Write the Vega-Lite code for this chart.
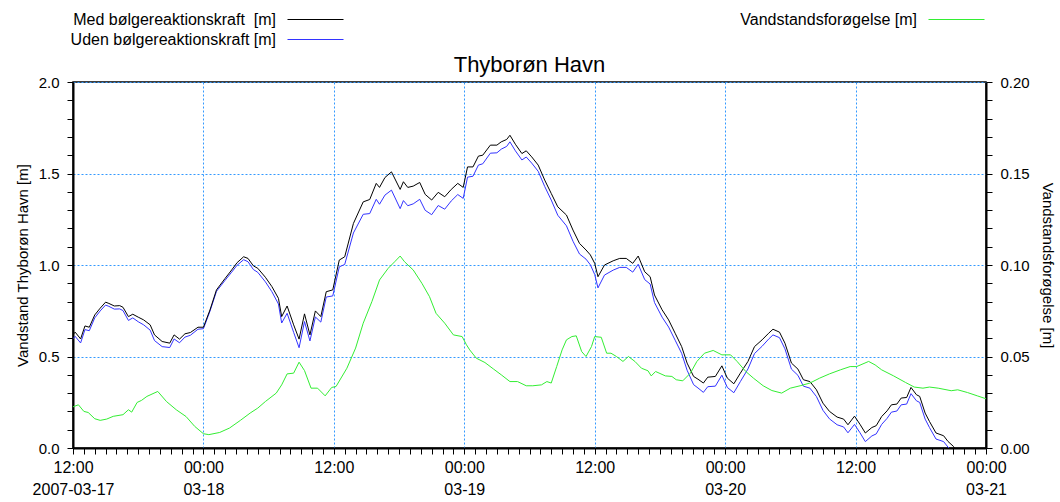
{
  "$schema": "https://vega.github.io/schema/vega-lite/v6.json",
  "width": 913,
  "height": 366,
  "autosize": {"type": "none"},
  "padding": {"left": 73, "top": 82, "right": 74, "bottom": 54},
  "background": "white",
  "title": {"text": "Thyborøn Havn", "fontSize": 22, "font": "Liberation Sans", "fontWeight": "normal", "color": "black", "offset": 4, "dy": 90},
  "config": {
    "view": {"stroke": "black", "strokeWidth": 1.5},
    "font": "Liberation Sans",
    "axis": {
      "labelFont": "Liberation Sans", "labelFontSize": 15, "labelColor": "black",
      "titleFont": "Liberation Sans", "titleFontSize": 15, "titleFontWeight": "normal", "titleColor": "black",
      "domainColor": "black", "domainWidth": 2, "tickColor": "black", "tickWidth": 1,
      "gridColor": "#3399ff", "gridDash": [2, 2], "gridWidth": 1
    },
    "legend": {
      "orient": "none", "direction": "vertical", "title": null,
      "symbolType": "stroke", "symbolSize": 3136, "symbolStrokeWidth": 1,
      "labelAlign": "right", "labelOffset": -68, "labelLimit": 400,
      "labelFontSize": 16, "labelFont": "Liberation Sans", "labelColor": "black",
      "padding": 0
    }
  },
  "datasets": {
    "levels": [
      {"t": "2007-03-17T12:00", "med": 0.62, "uden": 0.597},
      {"t": "2007-03-17T12:12", "med": 0.633, "uden": 0.61},
      {"t": "2007-03-17T12:42", "med": 0.596, "uden": 0.574},
      {"t": "2007-03-17T13:06", "med": 0.667, "uden": 0.647},
      {"t": "2007-03-17T13:30", "med": 0.66, "uden": 0.641},
      {"t": "2007-03-17T14:00", "med": 0.727, "uden": 0.711},
      {"t": "2007-03-17T14:30", "med": 0.764, "uden": 0.749},
      {"t": "2007-03-17T15:00", "med": 0.797, "uden": 0.781},
      {"t": "2007-03-17T15:18", "med": 0.79, "uden": 0.774},
      {"t": "2007-03-17T15:48", "med": 0.776, "uden": 0.759},
      {"t": "2007-03-17T16:18", "med": 0.778, "uden": 0.76},
      {"t": "2007-03-17T16:36", "med": 0.769, "uden": 0.751},
      {"t": "2007-03-17T17:06", "med": 0.718, "uden": 0.697},
      {"t": "2007-03-17T17:30", "med": 0.731, "uden": 0.711},
      {"t": "2007-03-17T18:00", "med": 0.715, "uden": 0.69},
      {"t": "2007-03-17T18:30", "med": 0.70, "uden": 0.673},
      {"t": "2007-03-17T19:06", "med": 0.673, "uden": 0.644},
      {"t": "2007-03-17T19:30", "med": 0.618, "uden": 0.587},
      {"t": "2007-03-17T20:12", "med": 0.582, "uden": 0.554},
      {"t": "2007-03-17T20:54", "med": 0.573, "uden": 0.549},
      {"t": "2007-03-17T21:18", "med": 0.618, "uden": 0.596},
      {"t": "2007-03-17T21:48", "med": 0.595, "uden": 0.575},
      {"t": "2007-03-17T22:18", "med": 0.624, "uden": 0.606},
      {"t": "2007-03-17T22:48", "med": 0.631, "uden": 0.616},
      {"t": "2007-03-17T23:30", "med": 0.66, "uden": 0.649},
      {"t": "2007-03-18T00:00", "med": 0.66, "uden": 0.652},
      {"t": "2007-03-18T00:36", "med": 0.754, "uden": 0.747},
      {"t": "2007-03-18T01:12", "med": 0.864, "uden": 0.856},
      {"t": "2007-03-18T02:00", "med": 0.927, "uden": 0.917},
      {"t": "2007-03-18T02:36", "med": 0.973, "uden": 0.961},
      {"t": "2007-03-18T03:06", "med": 1.013, "uden": 0.999},
      {"t": "2007-03-18T03:42", "med": 1.045, "uden": 1.029},
      {"t": "2007-03-18T04:06", "med": 1.036, "uden": 1.018},
      {"t": "2007-03-18T04:36", "med": 0.995, "uden": 0.975},
      {"t": "2007-03-18T05:00", "med": 0.982, "uden": 0.96},
      {"t": "2007-03-18T05:42", "med": 0.933, "uden": 0.908},
      {"t": "2007-03-18T06:18", "med": 0.882, "uden": 0.854},
      {"t": "2007-03-18T06:54", "med": 0.818, "uden": 0.787},
      {"t": "2007-03-18T07:12", "med": 0.718, "uden": 0.683},
      {"t": "2007-03-18T07:42", "med": 0.776, "uden": 0.736},
      {"t": "2007-03-18T08:18", "med": 0.673, "uden": 0.632},
      {"t": "2007-03-18T08:48", "med": 0.595, "uden": 0.548},
      {"t": "2007-03-18T09:18", "med": 0.733, "uden": 0.691},
      {"t": "2007-03-18T09:48", "med": 0.618, "uden": 0.585},
      {"t": "2007-03-18T10:18", "med": 0.749, "uden": 0.716},
      {"t": "2007-03-18T10:48", "med": 0.718, "uden": 0.688},
      {"t": "2007-03-18T11:18", "med": 0.854, "uden": 0.825},
      {"t": "2007-03-18T11:54", "med": 0.864, "uden": 0.831},
      {"t": "2007-03-18T12:30", "med": 1.027, "uden": 0.99},
      {"t": "2007-03-18T13:00", "med": 1.045, "uden": 1.003},
      {"t": "2007-03-18T13:48", "med": 1.227, "uden": 1.175},
      {"t": "2007-03-18T14:42", "med": 1.345, "uden": 1.277},
      {"t": "2007-03-18T15:18", "med": 1.358, "uden": 1.281},
      {"t": "2007-03-18T15:54", "med": 1.446, "uden": 1.359},
      {"t": "2007-03-18T16:12", "med": 1.424, "uden": 1.332},
      {"t": "2007-03-18T16:42", "med": 1.478, "uden": 1.382},
      {"t": "2007-03-18T17:18", "med": 1.509, "uden": 1.409},
      {"t": "2007-03-18T18:06", "med": 1.413, "uden": 1.308},
      {"t": "2007-03-18T18:24", "med": 1.455, "uden": 1.352},
      {"t": "2007-03-18T18:48", "med": 1.424, "uden": 1.324},
      {"t": "2007-03-18T19:18", "med": 1.431, "uden": 1.334},
      {"t": "2007-03-18T19:54", "med": 1.451, "uden": 1.359},
      {"t": "2007-03-18T20:24", "med": 1.386, "uden": 1.299},
      {"t": "2007-03-18T21:00", "med": 1.355, "uden": 1.275},
      {"t": "2007-03-18T21:36", "med": 1.397, "uden": 1.325},
      {"t": "2007-03-18T22:12", "med": 1.373, "uden": 1.305},
      {"t": "2007-03-18T22:48", "med": 1.413, "uden": 1.35},
      {"t": "2007-03-18T23:24", "med": 1.446, "uden": 1.385},
      {"t": "2007-03-18T23:54", "med": 1.424, "uden": 1.364},
      {"t": "2007-03-19T00:18", "med": 1.536, "uden": 1.48},
      {"t": "2007-03-19T00:48", "med": 1.536, "uden": 1.485},
      {"t": "2007-03-19T01:18", "med": 1.595, "uden": 1.546},
      {"t": "2007-03-19T01:42", "med": 1.60, "uden": 1.553},
      {"t": "2007-03-19T02:24", "med": 1.655, "uden": 1.611},
      {"t": "2007-03-19T03:00", "med": 1.655, "uden": 1.613},
      {"t": "2007-03-19T03:24", "med": 1.673, "uden": 1.633},
      {"t": "2007-03-19T03:54", "med": 1.686, "uden": 1.648},
      {"t": "2007-03-19T04:12", "med": 1.709, "uden": 1.673},
      {"t": "2007-03-19T04:42", "med": 1.66, "uden": 1.624},
      {"t": "2007-03-19T05:18", "med": 1.609, "uden": 1.574},
      {"t": "2007-03-19T05:42", "med": 1.624, "uden": 1.59},
      {"t": "2007-03-19T06:12", "med": 1.591, "uden": 1.557},
      {"t": "2007-03-19T06:48", "med": 1.546, "uden": 1.512},
      {"t": "2007-03-19T07:24", "med": 1.464, "uden": 1.429},
      {"t": "2007-03-19T08:00", "med": 1.391, "uden": 1.355},
      {"t": "2007-03-19T08:36", "med": 1.318, "uden": 1.272},
      {"t": "2007-03-19T09:24", "med": 1.273, "uden": 1.214},
      {"t": "2007-03-19T10:00", "med": 1.191, "uden": 1.13},
      {"t": "2007-03-19T10:36", "med": 1.118, "uden": 1.06},
      {"t": "2007-03-19T11:12", "med": 1.082, "uden": 1.032},
      {"t": "2007-03-19T11:36", "med": 1.055, "uden": 1.001},
      {"t": "2007-03-19T12:00", "med": 1.009, "uden": 0.948},
      {"t": "2007-03-19T12:18", "med": 0.936, "uden": 0.875},
      {"t": "2007-03-19T12:54", "med": 1.0, "uden": 0.945},
      {"t": "2007-03-19T13:42", "med": 1.023, "uden": 0.972},
      {"t": "2007-03-19T14:18", "med": 1.036, "uden": 0.987},
      {"t": "2007-03-19T14:54", "med": 1.036, "uden": 0.987},
      {"t": "2007-03-19T15:30", "med": 1.009, "uden": 0.961},
      {"t": "2007-03-19T16:00", "med": 1.049, "uden": 1.004},
      {"t": "2007-03-19T16:36", "med": 0.963, "uden": 0.92},
      {"t": "2007-03-19T17:06", "med": 0.936, "uden": 0.896},
      {"t": "2007-03-19T17:30", "med": 0.836, "uden": 0.795},
      {"t": "2007-03-19T18:12", "med": 0.755, "uden": 0.715},
      {"t": "2007-03-19T18:48", "med": 0.70, "uden": 0.661},
      {"t": "2007-03-19T19:24", "med": 0.627, "uden": 0.589},
      {"t": "2007-03-19T20:00", "med": 0.554, "uden": 0.517},
      {"t": "2007-03-19T20:30", "med": 0.464, "uden": 0.425},
      {"t": "2007-03-19T21:06", "med": 0.391, "uden": 0.346},
      {"t": "2007-03-19T21:30", "med": 0.376, "uden": 0.328},
      {"t": "2007-03-19T22:00", "med": 0.355, "uden": 0.304},
      {"t": "2007-03-19T22:24", "med": 0.387, "uden": 0.335},
      {"t": "2007-03-19T23:06", "med": 0.391, "uden": 0.338},
      {"t": "2007-03-19T23:42", "med": 0.449, "uden": 0.398},
      {"t": "2007-03-20T00:12", "med": 0.382, "uden": 0.331},
      {"t": "2007-03-20T00:48", "med": 0.351, "uden": 0.302},
      {"t": "2007-03-20T01:24", "med": 0.409, "uden": 0.363},
      {"t": "2007-03-20T02:06", "med": 0.473, "uden": 0.432},
      {"t": "2007-03-20T02:42", "med": 0.554, "uden": 0.516},
      {"t": "2007-03-20T03:24", "med": 0.591, "uden": 0.556},
      {"t": "2007-03-20T04:00", "med": 0.627, "uden": 0.595},
      {"t": "2007-03-20T04:24", "med": 0.649, "uden": 0.618},
      {"t": "2007-03-20T05:00", "med": 0.633, "uden": 0.603},
      {"t": "2007-03-20T05:30", "med": 0.573, "uden": 0.542},
      {"t": "2007-03-20T06:06", "med": 0.464, "uden": 0.431},
      {"t": "2007-03-20T06:42", "med": 0.431, "uden": 0.397},
      {"t": "2007-03-20T07:12", "med": 0.373, "uden": 0.338},
      {"t": "2007-03-20T07:48", "med": 0.363, "uden": 0.327},
      {"t": "2007-03-20T08:24", "med": 0.318, "uden": 0.281},
      {"t": "2007-03-20T09:00", "med": 0.245, "uden": 0.206},
      {"t": "2007-03-20T09:36", "med": 0.20, "uden": 0.159},
      {"t": "2007-03-20T10:18", "med": 0.169, "uden": 0.127},
      {"t": "2007-03-20T10:54", "med": 0.158, "uden": 0.115},
      {"t": "2007-03-20T11:18", "med": 0.127, "uden": 0.083},
      {"t": "2007-03-20T11:54", "med": 0.174, "uden": 0.129},
      {"t": "2007-03-20T12:24", "med": 0.13, "uden": 0.084},
      {"t": "2007-03-20T12:54", "med": 0.082, "uden": 0.035},
      {"t": "2007-03-20T13:30", "med": 0.112, "uden": 0.066},
      {"t": "2007-03-20T13:54", "med": 0.122, "uden": 0.077},
      {"t": "2007-03-20T14:24", "med": 0.172, "uden": 0.129},
      {"t": "2007-03-20T14:54", "med": 0.203, "uden": 0.162},
      {"t": "2007-03-20T15:18", "med": 0.236, "uden": 0.196},
      {"t": "2007-03-20T15:48", "med": 0.24, "uden": 0.202},
      {"t": "2007-03-20T16:12", "med": 0.273, "uden": 0.236},
      {"t": "2007-03-20T16:42", "med": 0.276, "uden": 0.24},
      {"t": "2007-03-20T17:06", "med": 0.331, "uden": 0.297},
      {"t": "2007-03-20T17:36", "med": 0.291, "uden": 0.258},
      {"t": "2007-03-20T17:54", "med": 0.282, "uden": 0.249},
      {"t": "2007-03-20T18:24", "med": 0.191, "uden": 0.158},
      {"t": "2007-03-20T18:48", "med": 0.145, "uden": 0.112},
      {"t": "2007-03-20T19:24", "med": 0.082, "uden": 0.049},
      {"t": "2007-03-20T20:06", "med": 0.067, "uden": 0.035},
      {"t": "2007-03-20T20:30", "med": 0.036, "uden": 0.005},
      {"t": "2007-03-20T21:00", "med": 0.009, "uden": -0.022},
      {"t": "2007-03-20T21:24", "med": -0.03, "uden": -0.06}
    ],
    "surge": [
      {"t": "2007-03-17T12:00", "v": 0.0225},
      {"t": "2007-03-17T12:30", "v": 0.0236},
      {"t": "2007-03-17T13:00", "v": 0.020},
      {"t": "2007-03-17T13:24", "v": 0.0194},
      {"t": "2007-03-17T14:00", "v": 0.016},
      {"t": "2007-03-17T14:30", "v": 0.0151},
      {"t": "2007-03-17T15:06", "v": 0.0158},
      {"t": "2007-03-17T15:42", "v": 0.0173},
      {"t": "2007-03-17T16:36", "v": 0.0182},
      {"t": "2007-03-17T17:06", "v": 0.0209},
      {"t": "2007-03-17T17:24", "v": 0.0196},
      {"t": "2007-03-17T17:54", "v": 0.0249},
      {"t": "2007-03-17T18:18", "v": 0.026},
      {"t": "2007-03-17T18:48", "v": 0.0282},
      {"t": "2007-03-17T19:48", "v": 0.0309},
      {"t": "2007-03-17T20:36", "v": 0.0254},
      {"t": "2007-03-17T21:30", "v": 0.0209},
      {"t": "2007-03-17T22:24", "v": 0.0172},
      {"t": "2007-03-17T23:12", "v": 0.0118},
      {"t": "2007-03-18T00:00", "v": 0.0078},
      {"t": "2007-03-18T00:30", "v": 0.0073},
      {"t": "2007-03-18T01:30", "v": 0.0085},
      {"t": "2007-03-18T02:24", "v": 0.0109},
      {"t": "2007-03-18T03:24", "v": 0.0151},
      {"t": "2007-03-18T04:18", "v": 0.0191},
      {"t": "2007-03-18T05:00", "v": 0.0218},
      {"t": "2007-03-18T05:42", "v": 0.0254},
      {"t": "2007-03-18T06:42", "v": 0.030},
      {"t": "2007-03-18T07:12", "v": 0.0345},
      {"t": "2007-03-18T07:42", "v": 0.0405},
      {"t": "2007-03-18T08:18", "v": 0.0409},
      {"t": "2007-03-18T08:48", "v": 0.0469},
      {"t": "2007-03-18T09:18", "v": 0.0423},
      {"t": "2007-03-18T09:54", "v": 0.0327},
      {"t": "2007-03-18T10:30", "v": 0.0327},
      {"t": "2007-03-18T11:12", "v": 0.0285},
      {"t": "2007-03-18T11:48", "v": 0.0331},
      {"t": "2007-03-18T12:12", "v": 0.0336},
      {"t": "2007-03-18T13:12", "v": 0.0436},
      {"t": "2007-03-18T14:00", "v": 0.0546},
      {"t": "2007-03-18T14:42", "v": 0.0682},
      {"t": "2007-03-18T15:30", "v": 0.080},
      {"t": "2007-03-18T16:12", "v": 0.0918},
      {"t": "2007-03-18T17:00", "v": 0.0982},
      {"t": "2007-03-18T17:36", "v": 0.1018},
      {"t": "2007-03-18T18:06", "v": 0.1049},
      {"t": "2007-03-18T18:30", "v": 0.1018},
      {"t": "2007-03-18T19:18", "v": 0.0973},
      {"t": "2007-03-18T20:06", "v": 0.090},
      {"t": "2007-03-18T20:48", "v": 0.0827},
      {"t": "2007-03-18T21:24", "v": 0.0736},
      {"t": "2007-03-18T22:12", "v": 0.0682},
      {"t": "2007-03-18T23:00", "v": 0.0618},
      {"t": "2007-03-18T23:48", "v": 0.0609},
      {"t": "2007-03-19T00:12", "v": 0.0564},
      {"t": "2007-03-19T00:30", "v": 0.0536},
      {"t": "2007-03-19T01:06", "v": 0.0491},
      {"t": "2007-03-19T01:54", "v": 0.0467},
      {"t": "2007-03-19T02:42", "v": 0.0431},
      {"t": "2007-03-19T03:24", "v": 0.040},
      {"t": "2007-03-19T04:12", "v": 0.0363},
      {"t": "2007-03-19T04:54", "v": 0.0363},
      {"t": "2007-03-19T05:42", "v": 0.034},
      {"t": "2007-03-19T06:18", "v": 0.034},
      {"t": "2007-03-19T07:06", "v": 0.0345},
      {"t": "2007-03-19T07:36", "v": 0.0363},
      {"t": "2007-03-19T08:00", "v": 0.0355},
      {"t": "2007-03-19T08:30", "v": 0.0445},
      {"t": "2007-03-19T09:00", "v": 0.0536},
      {"t": "2007-03-19T09:24", "v": 0.0591},
      {"t": "2007-03-19T09:54", "v": 0.0609},
      {"t": "2007-03-19T10:18", "v": 0.0613},
      {"t": "2007-03-19T10:48", "v": 0.0527},
      {"t": "2007-03-19T11:12", "v": 0.050},
      {"t": "2007-03-19T11:42", "v": 0.0554},
      {"t": "2007-03-19T12:00", "v": 0.0609},
      {"t": "2007-03-19T12:36", "v": 0.0605},
      {"t": "2007-03-19T13:06", "v": 0.0518},
      {"t": "2007-03-19T13:30", "v": 0.0518},
      {"t": "2007-03-19T14:00", "v": 0.050},
      {"t": "2007-03-19T14:36", "v": 0.0473},
      {"t": "2007-03-19T15:06", "v": 0.050},
      {"t": "2007-03-19T15:42", "v": 0.0473},
      {"t": "2007-03-19T16:18", "v": 0.0436},
      {"t": "2007-03-19T16:54", "v": 0.0422},
      {"t": "2007-03-19T17:12", "v": 0.0394},
      {"t": "2007-03-19T17:36", "v": 0.0418},
      {"t": "2007-03-19T18:30", "v": 0.0394},
      {"t": "2007-03-19T19:06", "v": 0.0391},
      {"t": "2007-03-19T19:30", "v": 0.0373},
      {"t": "2007-03-19T20:06", "v": 0.0367},
      {"t": "2007-03-19T20:48", "v": 0.0409},
      {"t": "2007-03-19T21:24", "v": 0.0473},
      {"t": "2007-03-19T22:06", "v": 0.0518},
      {"t": "2007-03-19T22:54", "v": 0.0533},
      {"t": "2007-03-19T23:42", "v": 0.0509},
      {"t": "2007-03-20T00:30", "v": 0.0509},
      {"t": "2007-03-20T01:06", "v": 0.0473},
      {"t": "2007-03-20T01:54", "v": 0.0418},
      {"t": "2007-03-20T02:36", "v": 0.0382},
      {"t": "2007-03-20T03:30", "v": 0.034},
      {"t": "2007-03-20T04:18", "v": 0.0314},
      {"t": "2007-03-20T05:12", "v": 0.030},
      {"t": "2007-03-20T06:00", "v": 0.0327},
      {"t": "2007-03-20T06:54", "v": 0.034},
      {"t": "2007-03-20T07:48", "v": 0.0355},
      {"t": "2007-03-20T08:42", "v": 0.0382},
      {"t": "2007-03-20T09:36", "v": 0.0405},
      {"t": "2007-03-20T10:36", "v": 0.0427},
      {"t": "2007-03-20T11:30", "v": 0.0445},
      {"t": "2007-03-20T12:06", "v": 0.0445},
      {"t": "2007-03-20T13:12", "v": 0.0473},
      {"t": "2007-03-20T13:48", "v": 0.0454},
      {"t": "2007-03-20T14:24", "v": 0.0427},
      {"t": "2007-03-20T15:30", "v": 0.0394},
      {"t": "2007-03-20T16:36", "v": 0.0358},
      {"t": "2007-03-20T17:24", "v": 0.0333},
      {"t": "2007-03-20T18:12", "v": 0.0327},
      {"t": "2007-03-20T18:48", "v": 0.0333},
      {"t": "2007-03-20T19:36", "v": 0.0327},
      {"t": "2007-03-20T20:48", "v": 0.0313},
      {"t": "2007-03-20T21:24", "v": 0.0318},
      {"t": "2007-03-20T22:18", "v": 0.0303},
      {"t": "2007-03-20T23:12", "v": 0.0285},
      {"t": "2007-03-21T00:00", "v": 0.0269}
    ]
  },
  "layer": [
    {
      "layer": [
        {
          "data": {"name": "levels"},
          "transform": [{"fold": ["uden"], "as": ["serie", "niveau"]}],
          "mark": {"type": "line", "strokeWidth": 1, "clip": true},
          "encoding": {
            "x": {
              "field": "t", "type": "temporal",
              "scale": {"domain": [{"year": 2007, "month": 3, "date": 17, "hours": 12}, {"year": 2007, "month": 3, "date": 21, "hours": 0}]},
              "axis": {
                "title": null,
                "tickCount": 84,
                "labelExpr": "hours(datum.value) == 12 && date(datum.value) == 17 ? ['12:00', '2007-03-17'] : (hours(datum.value) == 12 ? '12:00' : (hours(datum.value) == 0 ? ['00:00', timeFormat(datum.value, '%m-%d')] : ''))",
                "labelOverlap": false,
                "labelFlush": false,
                "labelBound": false,
                "labelPadding": 5,
                "labelFontSize": 16,
                "labelLineHeight": 22,
                "tickSize": 6,
                "grid": true,
                "gridOpacity": {"condition": {"test": "hours(datum.value) % 12 == 0", "value": 1}, "value": 0}
              }
            },
            "y": {
              "field": "niveau", "type": "quantitative",
              "scale": {"domain": [0, 2], "nice": false, "zero": false},
              "axis": {
                "title": "Vandstand Thyborøn Havn [m]",
                "values": [0, 0.1, 0.2, 0.3, 0.4, 0.5, 0.6, 0.7, 0.8, 0.9, 1.0, 1.1, 1.2, 1.3, 1.4, 1.5, 1.6, 1.7, 1.8, 1.9, 2.0],
                "format": ".1f",
                "labelExpr": "round(datum.value * 10) % 5 == 0 ? datum.label : ''",
                "labelOverlap": false,
                "tickSize": 6,
                "labelPadding": 8,
                "titlePadding": 8,
                "grid": true,
                "gridOpacity": {"condition": {"test": "round(datum.value * 10) % 5 == 0", "value": 1}, "value": 0}
              }
            },
            "color": {
              "field": "serie", "type": "nominal",
              "scale": {"domain": ["uden"], "range": ["#3333ff"]},
              "legend": {"legendX": 214, "legendY": -71, "labelExpr": "'Uden bølgereaktionskraft [m]'"}
            }
          }
        },
        {
          "data": {"name": "levels"},
          "transform": [{"fold": ["med"], "as": ["serie", "niveau"]}],
          "mark": {"type": "line", "strokeWidth": 1, "clip": true},
          "encoding": {
            "x": {"field": "t", "type": "temporal"},
            "y": {
              "field": "niveau", "type": "quantitative",
              "scale": {"domain": [0, 2], "nice": false, "zero": false},
              "axis": {
                "title": "Vandstand Thyborøn Havn [m]",
                "values": [0, 0.1, 0.2, 0.3, 0.4, 0.5, 0.6, 0.7, 0.8, 0.9, 1.0, 1.1, 1.2, 1.3, 1.4, 1.5, 1.6, 1.7, 1.8, 1.9, 2.0],
                "format": ".1f",
                "labelExpr": "round(datum.value * 10) % 5 == 0 ? datum.label : ''",
                "labelOverlap": false,
                "tickSize": 6,
                "labelPadding": 8,
                "titlePadding": 8,
                "grid": true,
                "gridOpacity": {"condition": {"test": "round(datum.value * 10) % 5 == 0", "value": 1}, "value": 0}
              }
            },
            "color": {
              "field": "serie", "type": "nominal",
              "scale": {"domain": ["med"], "range": ["#000000"]},
              "legend": {"legendX": 214, "legendY": -91, "labelExpr": "'Med bølgereaktionskraft\u00a0 [m]'"}
            }
          }
        }
      ],
      "resolve": {"scale": {"color": "independent"}}
    },
    {
      "data": {"name": "surge"},
      "transform": [{"fold": ["v"], "as": ["serie", "stigning"]}],
      "mark": {"type": "line", "strokeWidth": 1, "clip": true},
      "encoding": {
        "x": {"field": "t", "type": "temporal"},
        "y": {
          "field": "stigning", "type": "quantitative",
          "scale": {"domain": [0, 0.2], "nice": false, "zero": false},
          "axis": {
            "orient": "right",
            "title": "Vandstandsforøgelse [m]",
            "values": [0, 0.01, 0.02, 0.03, 0.04, 0.05, 0.06, 0.07, 0.08, 0.09, 0.1, 0.11, 0.12, 0.13, 0.14, 0.15, 0.16, 0.17, 0.18, 0.19, 0.2],
            "format": ".2f",
            "labelExpr": "round(datum.value * 100) % 5 == 0 ? datum.label : ''",
            "labelOverlap": false,
            "tickSize": 6,
            "labelPadding": 8,
            "titlePadding": 10,
            "grid": false
          }
        },
        "color": {
          "field": "serie", "type": "nominal",
          "scale": {"domain": ["v"], "range": ["#33ee33"]},
          "legend": {"legendX": 855, "legendY": -91, "labelExpr": "'Vandstandsforøgelse [m]'"}
        }
      }
    }
  ],
  "resolve": {"scale": {"y": "independent", "color": "independent"}}
}
